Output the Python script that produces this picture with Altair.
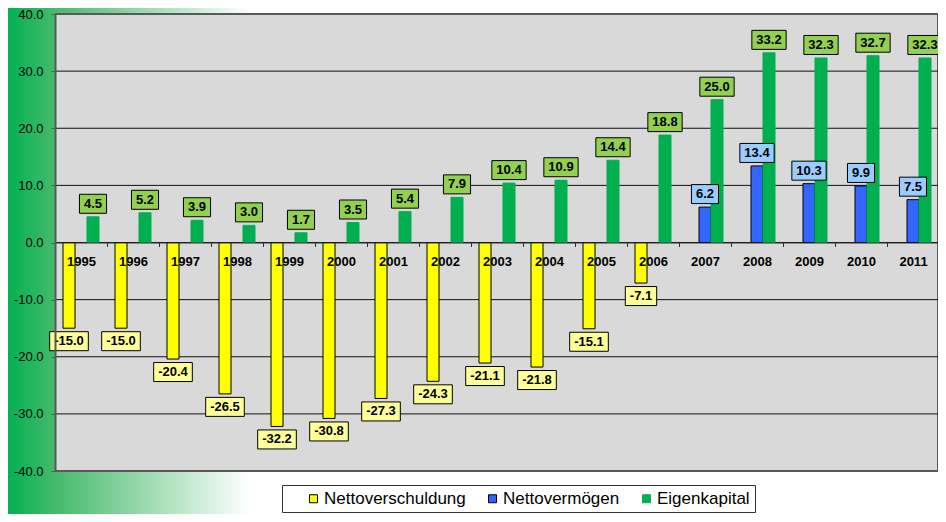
import altair as alt
import pandas as pd

years = [str(y) for y in range(1995, 2012)]
series = ["Nettoverschuldung", "Nettovermögen", "Eigenkapital"]
nettoverschuldung = [-15.0, -15.0, -20.4, -26.5, -32.2, -30.8, -27.3, -24.3,
                     -21.1, -21.8, -15.1, -7.1, None, None, None, None, None]
nettovermoegen = [None] * 12 + [6.2, 13.4, 10.3, 9.9, 7.5]
eigenkapital = [4.5, 5.2, 3.9, 3.0, 1.7, 3.5, 5.4, 7.9, 10.4, 10.9, 14.4,
                18.8, 25.0, 33.2, 32.3, 32.7, 32.3]
y_ticks = [-40, -30, -20, -10, 0, 10, 20, 30, 40]

bar_colors = ["#FFFF00", "#3366FF", "#00B050"]
bar_strokes = ["#000000", "#000000", "#00B050"]
label_fills = ["#FFFF99", "#99CCFF", "#92D050"]
FONT = "Liberation Sans"

PLOT_H = 457

rows = []
for s, vals in zip(series, [nettoverschuldung, nettovermoegen, eigenkapital]):
    for yr, v in zip(years, vals):
        if v is not None:
            rows.append({"year": yr, "series": s, "v": v, "label": f"{v:.1f}"})
df = pd.DataFrame(rows)

x_enc = alt.X("year:N", scale=alt.Scale(domain=years, range=[0, 884], paddingInner=0, paddingOuter=0),
              axis=alt.Axis(title=None, offset=-PLOT_H / 2, zindex=1, tickBand="extent",
                            labelAngle=0, labelFontWeight="bold", labelFontSize=13,
                            labelFont=FONT, labelColor="black", domainColor="#333333",
                            tickColor="#333333", tickSize=4, labelPadding=9))
xoff_enc = alt.XOffset("series:N", scale=alt.Scale(domain=series, paddingInner=0, paddingOuter=0.667))
y_enc = alt.Y("v:Q", scale=alt.Scale(domain=[-40, 40], nice=False, zero=False),
              axis=alt.Axis(title=None, values=y_ticks, labelExpr="datum.value + '.0'",
                            grid=False, zindex=1, domainColor="#595959", domainWidth=2,
                            tickColor="#595959", tickSize=4, labelPadding=8,
                            labelFontSize=13, labelFont=FONT, labelColor="black"))

def grad(c0, c1):
    return alt.LinearGradient(gradient="linear", x1=0, x2=1, y1=0, y2=0,
                              stops=[alt.GradientStop(offset=0, color=c0),
                                     alt.GradientStop(offset=1, color=c1)])

one = pd.DataFrame({"k": [0]})
strip_left = alt.Chart(one).mark_rect(fill=grad("#03B152", "#45BA6B")).encode(
    x=alt.value(-47), x2=alt.value(0), y=alt.value(-6), y2=alt.value(500))
strip_top = alt.Chart(one).mark_rect(fill=grad("#45BA6B", "#FFFFFF")).encode(
    x=alt.value(0), x2=alt.value(195), y=alt.value(-6), y2=alt.value(-1))
strip_bottom = alt.Chart(one).mark_rect(fill=grad("#45BA6B", "#FFFFFF")).encode(
    x=alt.value(0), x2=alt.value(195), y=alt.value(PLOT_H + 1), y2=alt.value(500))

grid = alt.Chart(pd.DataFrame({"v": y_ticks})).transform_filter(
    "abs(datum.v) < 40").mark_rule(color="#111111", strokeWidth=1).encode(y=y_enc)

base = alt.Chart(df).encode(x=x_enc, xOffset=xoff_enc, y=y_enc)

legend = alt.Legend(
    title=None, orient="none", legendX=227, legendY=471, direction="horizontal", columns=3,
    symbolType="square", symbolSize=64, symbolStrokeWidth=1, symbolStrokeColor="black",
    labelFont=FONT, labelFontSize=17, labelColor="black",
    strokeColor="#333333", fillColor="white", padding=5,
    symbolOffset=18, labelOffset=2, columnPadding=0,
)

bars = base.mark_bar(strokeWidth=1).encode(
    color=alt.Color("series:N", scale=alt.Scale(domain=series, range=bar_colors), legend=legend),
    stroke=alt.Stroke("series:N", scale=alt.Scale(domain=series, range=bar_strokes), legend=None),
)

boxes = base.transform_calculate(
    neg="datum.v < 0 ? 1 : 0"
).transform_calculate(
    w="(length(datum.label) - 1 - datum.neg) * 7.23 + 3.61 + datum.neg * 4.33 + 9",
    c="datum.neg ? 13 : -13",
).transform_calculate(
    path="'M' + (-datum.w/2) + ',' + (datum.c - 9.5) + 'L' + (datum.w/2) + ',' + (datum.c - 9.5)"
         " + 'L' + (datum.w/2) + ',' + (datum.c + 9.5) + 'L' + (-datum.w/2) + ',' + (datum.c + 9.5) + 'Z'"
).mark_point(filled=True, size=4, opacity=1, stroke="#000000", strokeWidth=1).encode(
    fill=alt.Fill("series:N", scale=alt.Scale(domain=series, range=label_fills), legend=None),
    shape=alt.Shape("path:N", scale=None),
)

text_pos = base.transform_filter("datum.v >= 0").mark_text(
    fontWeight="bold", fontSize=13, font=FONT, baseline="middle", dy=-13, color="black"
).encode(text="label:N")
text_neg = base.transform_filter("datum.v < 0").mark_text(
    fontWeight="bold", fontSize=13, font=FONT, baseline="middle", dy=13, color="black"
).encode(text="label:N")

chart = alt.layer(strip_left, strip_top, strip_bottom, grid, bars, boxes, text_pos, text_neg).properties(
    width=883, height=PLOT_H,
    autosize=alt.AutoSizeParams(type="none"),
    padding={"left": 47, "top": 6, "right": 0, "bottom": 43},
    background="white",
).configure_view(
    fill="#D9D9D9", stroke="#595959", strokeWidth=2
)

chart.save("out.html", embed_options={"renderer": "svg", "actions": False})
